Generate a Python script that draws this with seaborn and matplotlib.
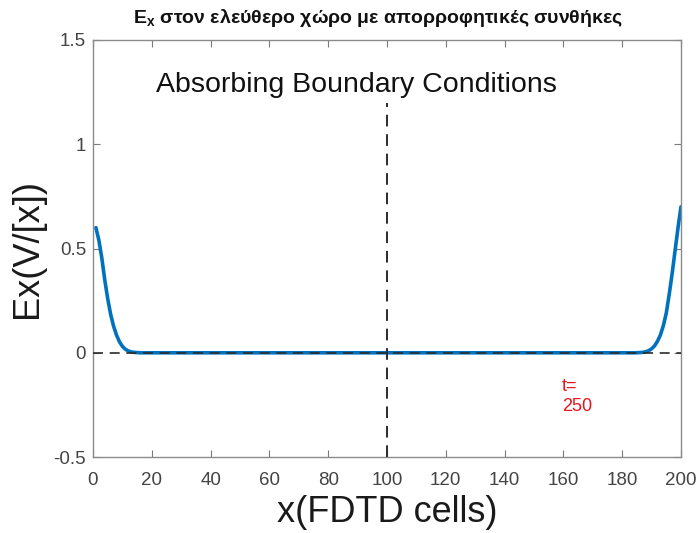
import matplotlib
matplotlib.use("Agg")
import matplotlib.pyplot as plt
import seaborn as sns
import pandas as pd

# Electric field samples across the FDTD grid at t = 250
cells = [1, 2, 3, 4, 5, 6, 7, 8, 9, 10, 11, 12, 13, 14, 15, 16,
         185, 186, 187, 188, 189, 190, 191, 192, 193, 194, 195, 196, 197, 198, 199, 200]
ex_values = [0.60, 0.54, 0.455, 0.35, 0.26, 0.185, 0.128, 0.085, 0.053, 0.031, 0.017, 0.009, 0.004, 0.002, 0.001, 0.0,
             0.0, 0.001, 0.002, 0.005, 0.010, 0.019, 0.033, 0.055, 0.085, 0.13, 0.19, 0.28, 0.38, 0.49, 0.60, 0.70]

x_ticks = [0, 20, 40, 60, 80, 100, 120, 140, 160, 180, 200]
y_ticks = [-0.5, 0, 0.5, 1, 1.5]
y_tick_labels = ["-0.5", "0", "0.5", "1", "1.5"]

time_step = 250
source_cell = 100

df = pd.DataFrame({"cell": cells, "Ex": ex_values})

sns.set_theme(style="white")
plt.rcParams["font.family"] = ["Liberation Sans", "DejaVu Sans"]

fig = plt.figure(figsize=(6.97, 5.33), dpi=100)
ax = fig.add_axes([0.1334, 0.1425, 0.8436, 0.7825])

sns.lineplot(data=df, x="cell", y="Ex", ax=ax, color="#0072BD", linewidth=2.6, sort=True, zorder=2)

# reference lines: zero level and the source position
ax.plot([0, 200], [0, 0], linestyle=(0, (6, 4)), color="#2b2b2b", linewidth=1.2, zorder=3)
ax.plot([source_cell, source_cell], [-0.5, 1.2], linestyle=(0, (6, 4)), color="#2b2b2b", linewidth=1.4, zorder=3)

ax.text(89.5, 1.285, "Absorbing Boundary Conditions", fontsize=20.5, color="#111111",
        ha="center", va="center")
ax.text(159.5, -0.21, f"t=\n{time_step}", fontsize=13, color="#e8141c",
        ha="left", va="center", linespacing=1.2)

ax.set_xlim(0, 200)
ax.set_ylim(-0.5, 1.5)
ax.set_xticks(x_ticks)
ax.set_xticklabels([str(t) for t in x_ticks])
ax.set_yticks(y_ticks)
ax.set_yticklabels(y_tick_labels)

ax.tick_params(axis="both", which="both", direction="in", length=5, width=0.8,
               color="#7a7a7a", labelcolor="#444444", labelsize=13.5,
               top=True, right=True, bottom=True, left=True, pad=5)
ax.tick_params(axis="x", pad=11)
for side in ax.spines.values():
    side.set_color("#8a8a8a")
    side.set_linewidth(1.0)

ax.set_xlabel("x(FDTD cells)", fontsize=26, color="#1a1a1a", labelpad=4)
ax.set_ylabel("Ex(V/[x])", fontsize=26, color="#1a1a1a", labelpad=6)
ax.set_title(r"E$_\mathregular{x}$ στον ελεύθερο χώρο με απορροφητικές συνθήκες",
             fontsize=14, fontweight="bold", color="#111111", pad=12, x=0.485)

fig.savefig("out.png", dpi=100)
